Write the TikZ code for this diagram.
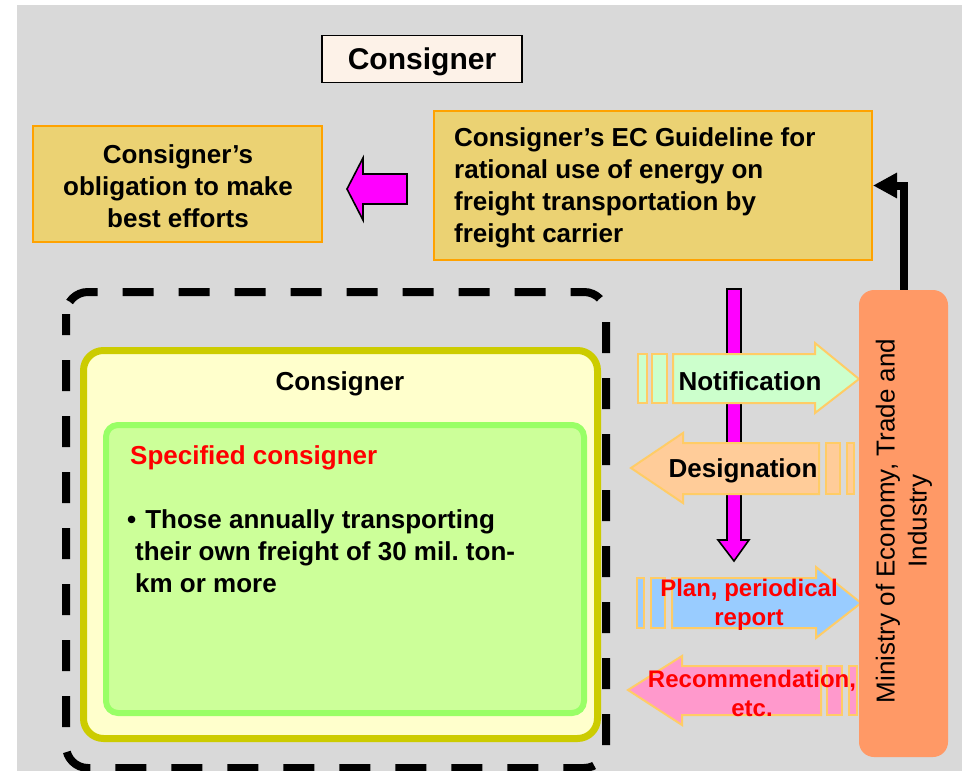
\documentclass[tikz,border=0pt]{standalone}
\usepackage{fontspec}
\setmainfont{Liberation Sans}
\usetikzlibrary{arrows.meta}
\frenchspacing

\definecolor{bggray}{HTML}{D9D9D9}
\definecolor{titlefill}{HTML}{FDF2E8}
\definecolor{goldfill}{HTML}{EBD273}
\definecolor{goldline}{HTML}{FFA200}
\definecolor{yelline}{HTML}{CCCC00}
\definecolor{yelfill}{HTML}{FFFFCC}
\definecolor{grnline}{HTML}{99FF66}
\definecolor{grnfill}{HTML}{CCFF99}
\definecolor{minfill}{HTML}{FF9966}
\definecolor{arrline}{HTML}{FFCC66}
\definecolor{notifill}{HTML}{CCFFCC}
\definecolor{desifill}{HTML}{FFCC99}
\definecolor{planfill}{HTML}{99CCFF}
\definecolor{recofill}{HTML}{FF99CC}
\definecolor{hotpink}{HTML}{FF00FF}

\tikzset{
  txt/.style={font=\fontsize{26}{32}\selectfont\bfseries, inner sep=0pt},
  redtxt/.style={font=\fontsize{24}{29}\selectfont\bfseries, text=red, inner sep=0pt, align=center},
  goldbox/.style={draw=goldline, fill=goldfill, line width=2pt, inner sep=0pt},
  blockarrow/.style={draw=arrline, line width=2pt, line join=miter},
  pinkarrow/.style={draw=black, fill=hotpink, line width=1.6pt, line join=miter},
}

\begin{document}
\begin{tikzpicture}[x=1pt, y=-1pt]
\useasboundingbox (0,0) rectangle (962,771);
\fill[bggray] (17,5) rectangle (962,771);

% heading
\node[draw=black, line width=1.5pt, fill=titlefill, minimum width=200pt, minimum height=47pt, inner sep=0pt] (title) at (422,59) {};
\node[font=\fontsize{30}{36}\selectfont\bfseries, inner sep=0pt] (titletxt) at (422,62) {Consigner};

% obligation box and guideline box
\node[goldbox, minimum width=289pt, minimum height=116pt] (oblig) at (177.5,184) {};
\node[txt, align=center] (obligtxt) at (178,186) {Consigner’s\\obligation to make\\best efforts};
\node[goldbox, minimum width=438pt, minimum height=149pt] (guide) at (653,185.5) {};
\node[txt, align=left, anchor=west] (guidetxt) at (454,188) {Consigner’s EC Guideline for\\rational use of energy on\\freight transportation by\\freight carrier};

% magenta arrow pointing to the obligation box
\draw[pinkarrow] (407,174) -- (407,204) -- (363,204) -- (363,220) -- (347,189) -- (363,158) -- (363,174) -- cycle;

% dashed frame
\draw[line width=8pt, dash pattern=on 31pt off 25pt, dash phase=10pt, rounded corners=22pt] (66,292) rectangle (606,768);

% consigner box with the specified consigner inside
\draw[yelline, fill=yelfill, line width=7pt, rounded corners=20pt] (83.5,350.5) rectangle (597.5,738.5);
\node[txt] (constxt) at (340,384) {Consigner};
\draw[grnline, fill=grnfill, line width=6pt, rounded corners=12pt] (106,425) rectangle (584,713);
\node[txt, text=red, anchor=west] (spectxt) at (130,458) {Specified consigner};
\node[txt, align=left, anchor=north west] (bullettxt) at (127,509) {•\hspace{9pt}Those annually transporting\\\hspace*{8pt}their own freight of 30 mil. ton-\\\hspace*{8pt}km or more};

% vertical magenta arrow
\draw[pinkarrow] (727,289) -- (741,289) -- (741,540) -- (749,540) -- (734,561) -- (718,540) -- (727,540) -- cycle;

% Notification (to the right)
\draw[blockarrow, fill=notifill] (638,354) rectangle (647,403);
\draw[blockarrow, fill=notifill] (652,354) rectangle (667,403);
\draw[blockarrow, fill=notifill] (673,354) -- (815,354) -- (815,343) -- (859,379) -- (815,413) -- (815,403) -- (673,403) -- cycle;
\node[txt] (notitxt) at (750,381) {Notification};

% Designation (to the left)
\draw[blockarrow, fill=desifill] (826,443) rectangle (840,494);
\draw[blockarrow, fill=desifill] (847,443) rectangle (854,494);
\draw[blockarrow, fill=desifill] (819,443) -- (683,443) -- (683,433) -- (631,468) -- (683,503) -- (683,494) -- (819,494) -- cycle;
\node[txt] (desitxt) at (743,471) {Designation};

% Plan, periodical report (to the right)
\draw[blockarrow, fill=planfill] (637,578) rectangle (644,628);
\draw[blockarrow, fill=planfill] (651,578) rectangle (665,628);
\draw[blockarrow, fill=planfill] (672,578) -- (816,578) -- (816,567) -- (861,603) -- (816,638) -- (816,628) -- (672,628) -- cycle;
\node[redtxt] (plantxt) at (749,605) {Plan, periodical\\report};

% Recommendation (to the left)
\draw[blockarrow, fill=recofill] (827,666) rectangle (842,715);
\draw[blockarrow, fill=recofill] (849,666) rectangle (857,715);
\draw[blockarrow, fill=recofill] (821,666) -- (682,666) -- (682,656) -- (628,690) -- (682,725) -- (682,715) -- (821,715) -- cycle;
\node[redtxt] (recotxt) at (752,693) {Recommendation,\\etc.};

% ministry
\node[fill=minfill, rounded corners=15pt, minimum width=89pt, minimum height=467pt, inner sep=0pt] (min) at (903.5,523.5) {};
\node[font=\fontsize{26}{32}\selectfont, rotate=90, align=center, inner sep=0pt] (mintxt) at (904,521) {Ministry of Economy, Trade and\\Industry};

% ministry issues the guideline
\draw[line width=8pt, line join=miter, -{Triangle[length=24pt,width=24pt]}] (min.north) |- (guide.east);
\end{tikzpicture}
\end{document}
